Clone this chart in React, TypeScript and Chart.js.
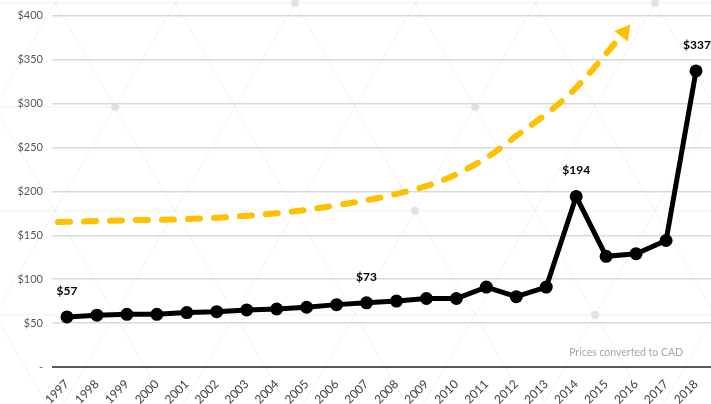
import React, { useEffect, useRef } from "react";
import { Chart, registerables } from "chart.js";

Chart.register(...registerables);

const years = ["1997", "1998", "1999", "2000", "2001", "2002", "2003", "2004", "2005", "2006", "2007", "2008", "2009", "2010", "2011", "2012", "2013", "2014", "2015", "2016", "2017", "2018"];
const prices = [57, 59, 60, 60, 62, 63, 65, 66, 68, 71, 73, 75, 78, 78, 91, 80, 91, 194, 126, 129, 144, 337];
const labelIndices = [0, 10, 17, 21];
const labelTexts = ["$57", "$73", "$194", "$337"];
const trendX = [-0.3, 2, 4.5, 7, 9, 11, 12.5, 14, 15, 16, 17, 18.6];
const trendY = [165, 167, 169, 175, 184, 197, 212, 238, 263, 288, 318, 381];
const yMin = 0;
const yMax = 400;
const yStep = 50;
const caption = "Prices converted to CAD";
const FONT = "Lato, 'Open Sans', sans-serif";

// decorative lattice vertices that carry a dot: [row, column]
const latticeDots = [[0, 2], [0, 5], [1, 0], [1, 3], [2, 3], [3, 4]];

const latticePlugin = {
  id: "lattice",
  beforeDraw(chart: any) {
    const { ctx, width, height } = chart;
    ctx.save();
    ctx.fillStyle = "#ffffff";
    ctx.fillRect(0, 0, width, height);
    const side = 120;
    const rowH = side * Math.sin(Math.PI / 3);
    const y0 = 3;
    const x0 = 55;
    const k = 1 / Math.tan(Math.PI / 3);
    ctx.strokeStyle = "rgba(0,0,0,0.055)";
    ctx.lineWidth = 1;
    ctx.beginPath();
    for (let y = y0; y < height; y += rowH) {
      ctx.moveTo(0, y);
      ctx.lineTo(width, y);
    }
    for (let c = x0 - side * 10; c < width + side * 10; c += side) {
      ctx.moveTo(c + (-50 - y0) * k, -50);
      ctx.lineTo(c + (height + 50 - y0) * k, height + 50);
      ctx.moveTo(c - (-50 - y0) * k, -50);
      ctx.lineTo(c - (height + 50 - y0) * k, height + 50);
    }
    ctx.stroke();
    ctx.fillStyle = "#e2e2e2";
    latticeDots.forEach(([row, col]) => {
      const x = x0 + (row % 2 === 1 ? side / 2 : 0) + col * side;
      const y = y0 + row * rowH;
      ctx.beginPath();
      ctx.arc(x, y, 4, 0, Math.PI * 2);
      ctx.fill();
    });
    ctx.restore();
  },
};

const labelPlugin = {
  id: "valueLabels",
  afterDatasetsDraw(chart: any) {
    const { ctx, chartArea } = chart;
    const meta = chart.getDatasetMeta(1);
    ctx.save();
    ctx.fillStyle = "#000000";
    ctx.font = `bold 12px ${FONT}`;
    ctx.textAlign = "center";
    ctx.textBaseline = "middle";
    labelIndices.forEach((idx, i) => {
      const pt = meta.data[idx];
      if (!pt) return;
      ctx.fillText(labelTexts[i], pt.x + (idx === years.length - 1 ? 1 : 0), pt.y - 26);
    });
    ctx.fillStyle = "#a6a6a6";
    ctx.font = `10.5px ${FONT}`;
    ctx.textAlign = "right";
    ctx.fillText(caption, chartArea.right - 28, chartArea.bottom - 14);
    ctx.restore();
  },
};

export default function App() {
  const ref = useRef<HTMLCanvasElement>(null);
  useEffect(() => {
    document.body.style.margin = "0";
    if (!ref.current) return;
    const trendData = trendX.map((x, i) => ({ x, y: trendY[i] }));
    const chart = new Chart(ref.current, {
      type: "line",
      data: {
        labels: years,
        datasets: [
          {
            data: trendData as any,
            xAxisID: "xt",
            borderColor: "#FFC000",
            backgroundColor: "#FFC000",
            borderWidth: 6,
            borderDash: [12, 14],
            borderCapStyle: "round",
            cubicInterpolationMode: "monotone",
            pointRadius: trendData.map((_, i) => (i === trendData.length - 1 ? 10 : 0)),
            pointStyle: "triangle",
            pointRotation: 38,
            pointBorderWidth: 0,
            clip: false as any,
            order: 2,
          },
          {
            data: prices,
            xAxisID: "x",
            borderColor: "#000000",
            backgroundColor: "#000000",
            borderWidth: 5,
            pointRadius: 6.5,
            pointBorderWidth: 0,
            tension: 0,
            order: 1,
          },
        ],
      },
      options: {
        responsive: false,
        animation: false,
        layout: { autoPadding: false, padding: { top: 11.5, right: 0, left: 0, bottom: 0 } },
        plugins: { legend: { display: false }, tooltip: { enabled: false } },
        scales: {
          x: {
            type: "category",
            offset: true,
            grid: { display: false },
            border: { display: false },
            ticks: {
              minRotation: 45,
              maxRotation: 45,
              color: "#404040",
              font: { family: FONT, size: 12 },
              padding: 2,
              autoSkip: false,
            },
            afterFit(scale: any) {
              scale.height = 37;
              scale.paddingLeft = 0;
              scale.paddingRight = 0;
            },
          },
          xt: {
            type: "linear",
            display: false,
            min: -0.5,
            max: years.length - 0.5,
          },
          y: {
            min: yMin,
            max: yMax,
            grid: {
              color: (c: any) => (c.tick && c.tick.value === 0 ? "#595959" : "#d9d9d9"),
              lineWidth: (c: any) => (c.tick && c.tick.value === 0 ? 2 : 1.4),
              drawTicks: false,
            },
            border: { display: false },
            ticks: {
              stepSize: yStep,
              color: "#595959",
              font: { family: FONT, size: 11 },
              padding: 9,
              callback: (v: any) => (Number(v) === 0 ? "-" : "$" + v),
            },
            afterFit(scale: any) {
              scale.width = 52;
            },
          },
        },
      },
      plugins: [latticePlugin, labelPlugin],
    });
    return () => chart.destroy();
  }, []);
  return (
    <div style={{ width: 711, height: 404 }}>
      <canvas ref={ref} width={711} height={404} style={{ display: "block" }} />
    </div>
  );
}
